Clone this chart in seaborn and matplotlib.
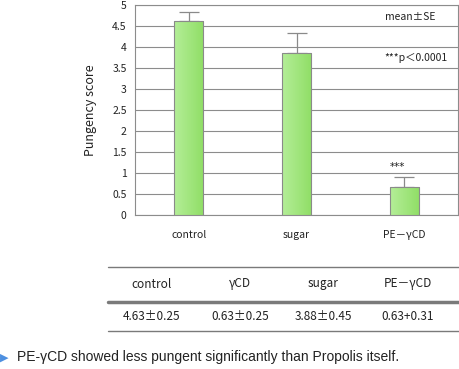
import numpy as np
import pandas as pd
import seaborn as sns
import matplotlib.pyplot as plt
from matplotlib.lines import Line2D

# chart data
groups = ['control', 'sugar', 'PE-γCD']
group_labels = ['control', 'sugar', 'PE－γCD']
means = [4.62, 3.86, 0.67]
se = [0.21, 0.47, 0.24]

# table under the chart
table_heads = ['control', 'γCD', 'sugar', 'PE－γCD']
table_vals = ['4.63±0.25', '0.63±0.25', '3.88±0.45', '0.63+0.31']

sns.set_style('white')
plt.rcParams['font.family'] = ['Noto Sans CJK JP', 'DejaVu Sans']

df = pd.DataFrame({'group': groups, 'score': means})

fig = plt.figure(figsize=(4.59, 3.69), dpi=100)
ax = fig.add_axes([135 / 459, 1 - 215 / 369, 323 / 459, 210 / 369])

sns.barplot(data=df, x='group', y='score', width=0.27, color='#a6e67e',
            edgecolor='#8a8a8a', linewidth=0.8, ax=ax, zorder=3)

# light-to-dark green gradient inside each bar
grad = np.linspace(0, 1, 64).reshape(1, -1)
cmap = sns.blend_palette(['#b4ee98', '#90de66'], as_cmap=True)
for p in ax.patches:
    x0, y0 = p.get_x(), p.get_y()
    w, h = p.get_width(), p.get_height()
    im = ax.imshow(grad, cmap=cmap, aspect='auto', extent=[x0, x0 + w, y0, y0 + h],
                   zorder=3.5)
    im.set_clip_path(p)
    p.set_facecolor('none')
    p.set_zorder(4)

ax.errorbar(range(len(groups)), means, yerr=[[0] * len(se), se], fmt='none',
            ecolor='#8a8a8a', elinewidth=0.9, capsize=7, capthick=0.9, zorder=2)

ax.set_xlim(-0.5, 2.5)
ax.set_ylim(0, 5)
ax.set_yticks(np.arange(0, 5.01, 0.5))
ax.set_yticklabels(['0', '0.5', '1', '1.5', '2', '2.5', '3', '3.5', '4', '4.5', '5'])
ax.yaxis.grid(True, color='#8c8c8c', linewidth=0.8, zorder=0)
ax.set_axisbelow(True)
for s in ax.spines.values():
    s.set_color('#8c8c8c')
    s.set_linewidth(0.8)

ax.set_xticks([0.5, 1.5])
ax.set_xticklabels(['', ''])
ax.tick_params(axis='x', direction='in', length=3, color='#8c8c8c', width=0.8)
ax.tick_params(axis='y', length=0, pad=6, labelsize=7.5, labelcolor='#222222')
for i, lab in enumerate(group_labels):
    ax.text(i, -0.47, lab, ha='center', va='center', fontsize=7.5, color='#222222')

ax.set_xlabel('')
ax.set_ylabel('Pungency score', fontsize=9, color='#222222', labelpad=11)

ax.text(1.82, 4.71, 'mean±SE', fontsize=7.5, color='#222222', va='center')
ax.text(1.82, 3.74, '***p＜0.0001', fontsize=7.5, color='#222222', va='center')
ax.text(1.87, 1.14, '***', fontsize=7.5, color='#222222', va='center',
        family=['DejaVu Sans'])

# table
for y, lw in [(267, 1.0), (302, 2.5), (331, 1.0)]:
    fig.add_artist(Line2D([108 / 459, 1.0], [1 - y / 369] * 2, color='#7a7a7a', lw=lw))
col_x = [152, 240, 323, 408]
for cx, head, val in zip(col_x, table_heads, table_vals):
    fig.text(cx / 459, 1 - 284 / 369, head, ha='center', va='center', fontsize=8.5, color='#222222')
    fig.text(cx / 459, 1 - 316 / 369, val, ha='center', va='center', fontsize=8.5, color='#222222')

fig.text(0, 1 - 358 / 369, '▶', fontsize=8, color='#4d8fe0', va='center',
         family=['DejaVu Sans'])
fig.text(17 / 459, 1 - 357 / 369, 'PE-γCD showed less pungent significantly than Propolis itself.',
         fontsize=10, color='#222222', va='center', family=['Liberation Sans', 'DejaVu Sans'])

fig.savefig('out.png', dpi=100)
